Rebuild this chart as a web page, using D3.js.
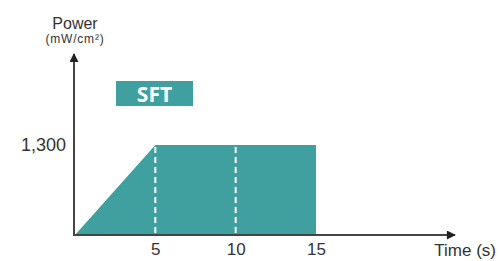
<!DOCTYPE html>
<html>
<head>
<meta charset="utf-8">
<script src="https://cdn.jsdelivr.net/npm/d3@7"></script>
<style>
  body { margin: 0; background: #fff; }
  svg { display: block; font-family: Arial, "Liberation Sans", sans-serif; }
</style>
</head>
<body>
<svg id="chart"></svg>
<script>
const width = 500;
const height = 261;

// data
const times = [0, 5, 15];
const power = [0, 1300, 1300];
const xTicks = [5, 10, 15];
const yTicks = [1300];
const dashTimes = [5, 10];
const label = "SFT";

const teal = "#40a0a0";
const ink = "#333";

const svg = d3.select("#chart").attr("width", width).attr("height", height);

const x = d3.scaleLinear().domain([0, 15]).range([75, 316]);
const y = d3.scaleLinear().domain([0, 1300]).range([235, 145]);

const pts = times.map((t, i) => ({ t, p: power[i] }));

// 填充区域
const area = d3.area()
  .x(d => x(d.t))
  .y0(y(0))
  .y1(d => y(d.p));

svg.append("path")
  .datum(pts)
  .attr("fill", teal)
  .attr("d", area);

// 白色虚线
svg.selectAll(".dash")
  .data(dashTimes)
  .join("line")
  .attr("x1", d => x(d)).attr("x2", d => x(d))
  .attr("y1", y(1300) + 2).attr("y2", y(0))
  .attr("stroke", "#fff")
  .attr("stroke-width", 2)
  .attr("stroke-dasharray", "6,4");

// 箭头
const defs = svg.append("defs");
defs.append("marker")
  .attr("id", "arrow")
  .attr("viewBox", "0 0 10 10")
  .attr("refX", 9).attr("refY", 5)
  .attr("markerWidth", 10).attr("markerHeight", 9)
  .attr("markerUnits", "userSpaceOnUse")
  .attr("orient", "auto")
  .append("path")
  .attr("d", "M0,0L10,5L0,10z")
  .attr("fill", "#222");

// 坐标轴线
svg.append("line")
  .attr("x1", x(0) - 1).attr("x2", 455)
  .attr("y1", y(0)).attr("y2", y(0))
  .attr("stroke", "#444").attr("stroke-width", 2)
  .attr("marker-end", "url(#arrow)");

svg.append("line")
  .attr("x1", x(0) - 1).attr("x2", x(0) - 1)
  .attr("y1", y(0) + 1).attr("y2", 54)
  .attr("stroke", "#444").attr("stroke-width", 2)
  .attr("marker-end", "url(#arrow)");

// x轴刻度
const gx = svg.append("g")
  .attr("transform", `translate(0,${y(0)})`)
  .call(d3.axisBottom(x).tickValues(xTicks).tickSize(0).tickPadding(8));
gx.select(".domain").remove();
gx.selectAll("text")
  .attr("fill", ink)
  .style("font-size", "17px")
  .style("font-family", "Arial, 'Liberation Sans', sans-serif");

// y轴刻度
const gy = svg.append("g")
  .attr("transform", `translate(${x(0)},0)`)
  .call(d3.axisLeft(y).tickValues(yTicks).tickSize(0).tickPadding(9).tickFormat(d3.format(",")));
gy.select(".domain").remove();
gy.selectAll("text")
  .attr("fill", ink)
  .style("font-size", "18px")
  .style("font-family", "Arial, 'Liberation Sans', sans-serif");

// 轴标题
svg.append("text")
  .attr("x", x(0)).attr("y", 29)
  .attr("text-anchor", "middle")
  .attr("fill", ink)
  .style("font-size", "16px")
  .text("Power");

svg.append("text")
  .attr("x", x(0)).attr("y", 43)
  .attr("text-anchor", "middle")
  .attr("fill", ink)
  .style("font-size", "12px")
  .style("letter-spacing", "0.8px")
  .text("(mW/cm²)");

svg.append("text")
  .attr("x", 496).attr("y", 256)
  .attr("text-anchor", "end")
  .attr("fill", ink)
  .style("font-size", "17px")
  .text("Time (s)");

// SFT 标签
svg.append("rect")
  .attr("x", 116).attr("y", 81)
  .attr("width", 77).attr("height", 25)
  .attr("fill", teal);

svg.append("text")
  .attr("x", 154.5).attr("y", 102)
  .attr("text-anchor", "middle")
  .attr("fill", "#fff")
  .style("font-family", "'Open Sans', sans-serif")
  .style("font-weight", "bold")
  .style("font-size", "21px")
  .text(label);
</script>
</body>
</html>
